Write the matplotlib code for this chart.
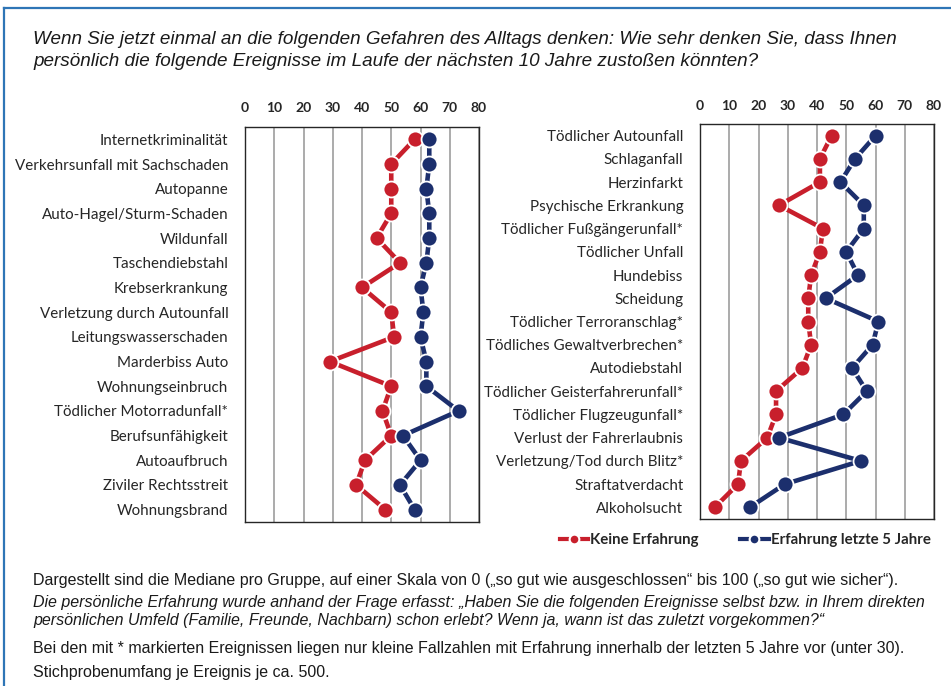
import matplotlib
matplotlib.use('Agg')
import matplotlib.pyplot as plt
from matplotlib.lines import Line2D

left_categories = [
    "Internetkriminalität", "Verkehrsunfall mit Sachschaden", "Autopanne",
    "Auto-Hagel/Sturm-Schaden", "Wildunfall", "Taschendiebstahl", "Krebserkrankung",
    "Verletzung durch Autounfall", "Leitungswasserschaden", "Marderbiss Auto",
    "Wohnungseinbruch", "Tödlicher Motorradunfall*", "Berufsunfähigkeit",
    "Autoaufbruch", "Ziviler Rechtsstreit", "Wohnungsbrand",
]
left_keine = [58, 50, 50, 50, 45, 53, 40, 50, 51, 29, 50, 47, 50, 41, 38, 48]
left_erfahrung = [63, 63, 62, 63, 63, 62, 60, 61, 60, 62, 62, 73, 54, 60, 53, 58]

right_categories = [
    "Tödlicher Autounfall", "Schlaganfall", "Herzinfarkt", "Psychische Erkrankung",
    "Tödlicher Fußgängerunfall*", "Tödlicher Unfall", "Hundebiss", "Scheidung",
    "Tödlicher Terroranschlag*", "Tödliches Gewaltverbrechen*", "Autodiebstahl",
    "Tödlicher Geisterfahrerunfall*", "Tödlicher Flugzeugunfall*",
    "Verlust der Fahrerlaubnis", "Verletzung/Tod durch Blitz*", "Straftatverdacht",
    "Alkoholsucht",
]
right_keine = [45, 41, 41, 27, 42, 41, 38, 37, 37, 38, 35, 26, 26, 23, 14, 13, 5]
right_erfahrung = [60, 53, 48, 56, 56, 50, 54, 43, 61, 59, 52, 57, 49, 27, 55, 29, 17]

x_ticks = [0, 10, 20, 30, 40, 50, 60, 70, 80]
series_labels = ["Keine Erfahrung", "Erfahrung letzte 5 Jahre"]

title_lines = [
    "Wenn Sie jetzt einmal an die folgenden Gefahren des Alltags denken: Wie sehr denken Sie, dass Ihnen",
    "persönlich die folgende Ereignisse im Laufe der nächsten 10 Jahre zustoßen könnten?",
]
note_lines = [
    ("Dargestellt sind die Mediane pro Gruppe, auf einer Skala von 0 („so gut wie ausgeschlossen“ bis 100 („so gut wie sicher“).", 'normal', 580),
    ("Die persönliche Erfahrung wurde anhand der Frage erfasst: „Haben Sie die folgenden Ereignisse selbst bzw. in Ihrem direkten", 'italic', 603),
    ("persönlichen Umfeld (Familie, Freunde, Nachbarn) schon erlebt? Wenn ja, wann ist das zuletzt vorgekommen?“", 'italic', 621),
    ("Bei den mit * markierten Ereignissen liegen nur kleine Fallzahlen mit Erfahrung innerhalb der letzten 5 Jahre vor (unter 30).", 'normal', 648),
    ("Stichprobenumfang je Ereignis je ca. 500.", 'normal', 672),
]

RED = '#c81f2c'
NAVY = '#1c2f6d'
TXT = '#262626'
W, H = 951, 686

fig = plt.figure(figsize=(W / 100, H / 100), dpi=100)
fig.patch.set_facecolor('white')


def box(x0, y0, x1, y1):
    return [x0 / W, 1 - y1 / H, (x1 - x0) / W, (y1 - y0) / H]


axL = fig.add_axes(box(245, 127, 479, 522))
axR = fig.add_axes(box(700, 124, 934, 519))

label_font = 'Lato'
for ax, cats, k, e in [(axL, left_categories, left_keine, left_erfahrung),
                       (axR, right_categories, right_keine, right_erfahrung)]:
    y = list(range(len(cats)))
    ax.plot(k, y, color=RED, lw=3.3, marker='o', ms=11.5, mfc=RED, mec='white',
            mew=1.3, zorder=3, solid_capstyle='butt')
    ax.plot(e, y, color=NAVY, lw=3.3, marker='o', ms=11.5, mfc=NAVY, mec='white',
            mew=1.3, zorder=3, solid_capstyle='butt')
    ax.set_xlim(0, 80)
    ax.set_ylim(len(cats) - 0.5, -0.5)
    ax.set_xticks(x_ticks)
    ax.xaxis.tick_top()
    ax.tick_params(axis='x', length=0, pad=9, labelsize=10, labelcolor=TXT)
    for t in ax.get_xticklabels():
        t.set_fontweight('bold')
        t.set_fontfamily(label_font)
    ax.set_yticks(y)
    ax.set_yticklabels(cats, fontfamily=label_font, fontsize=10.9, color=TXT)
    ax.tick_params(axis='y', length=0, pad=12)
    ax.grid(axis='x', color='#ababab', lw=1.4)
    ax.grid(axis='y', visible=False)
    ax.set_axisbelow(True)
    for s in ax.spines.values():
        s.set_color('#262626')
        s.set_linewidth(1.0)

# legend
handles = [
    Line2D([], [], color=RED, lw=3, marker='o', ms=7, mfc=RED, mec='white', mew=1.5),
    Line2D([], [], color=NAVY, lw=3, marker='o', ms=7, mfc=NAVY, mec='white', mew=1.5),
]
leg = fig.legend(handles, series_labels, loc='center left',
                 bbox_to_anchor=(546 / W, 1 - 540 / H), ncol=2, frameon=False,
                 handlelength=1.9, handletextpad=0.15, columnspacing=2.75,
                 prop={'family': label_font, 'weight': 'bold', 'size': 10.8})
for t in leg.get_texts():
    t.set_color(TXT)

# title
for i, line in enumerate(title_lines):
    fig.text(33 / W, 1 - (40 + 22 * i) / H, line, fontsize=13.6, style='italic',
             family='Liberation Sans', color='#1a1a1a', va='center', ha='left')

for line, st, yc in note_lines:
    fig.text(33 / W, 1 - yc / H, line, fontsize=11.5, style=st,
             family='Liberation Sans', color='#1a1a1a', va='center', ha='left')

# frame
fig.add_artist(Line2D([4 / W, 4 / W], [0, 1 - 8 / H], color='#2e75b6', lw=1.6,
                      transform=fig.transFigure))
fig.add_artist(Line2D([4 / W, 1], [1 - 8 / H, 1 - 8 / H], color='#2e75b6', lw=1.6,
                      transform=fig.transFigure))

fig.savefig('out.png', dpi=100)
